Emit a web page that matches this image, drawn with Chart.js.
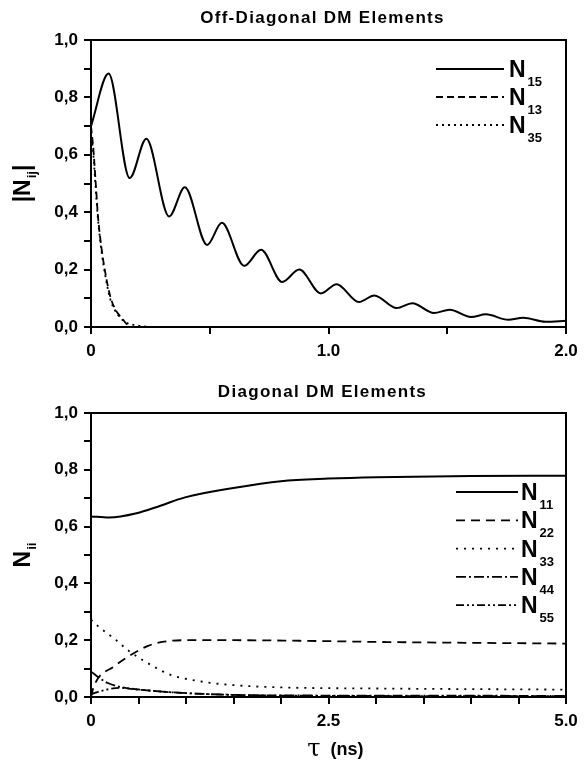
<!DOCTYPE html>
<html>
<head>
<meta charset="utf-8">
<script src="https://cdn.jsdelivr.net/npm/chart.js@4.4.1/dist/chart.umd.min.js"></script>
<style>
  html, body { margin: 0; padding: 0; background: #fff; }
  #wrap { position: relative; width: 585px; height: 764px; }
  canvas { position: absolute; left: 0; }
  #offChart { top: 0; }
  #diagChart { top: 370px; }
</style>
</head>
<body>
<div id="wrap">
  <canvas id="offChart" width="585" height="370"></canvas>
  <canvas id="diagChart" width="585" height="394"></canvas>
</div>
<script>
// --- DATA: off-diagonal elements (tau in ns) ---
const n15Time = [0, 0.074, 0.163, 0.233, 0.329, 0.395, 0.489, 0.551, 0.645, 0.716, 0.805, 0.877, 0.968, 1.034, 1.128, 1.193, 1.287, 1.353, 1.444, 1.51, 1.60, 1.663, 1.757, 1.82, 1.914, 2.0];
const n15Vals = [0.70, 0.883, 0.519, 0.656, 0.385, 0.487, 0.286, 0.363, 0.213, 0.269, 0.157, 0.20, 0.117, 0.149, 0.087, 0.11, 0.066, 0.083, 0.049, 0.06, 0.035, 0.044, 0.025, 0.032, 0.018, 0.022];
const n13Time = [0, 0.01, 0.02, 0.03, 0.045, 0.06, 0.08, 0.10, 0.12, 0.14, 0.16];
const n13Vals = [0.70, 0.62, 0.50, 0.38, 0.27, 0.19, 0.11, 0.065, 0.04, 0.02, 0.0];
const n35Time = [0, 0.01, 0.02, 0.03, 0.045, 0.06, 0.08, 0.10, 0.12, 0.15, 0.20, 0.25];
const n35Vals = [0.68, 0.60, 0.48, 0.37, 0.26, 0.18, 0.10, 0.06, 0.035, 0.015, 0.005, 0.0];

// --- DATA: diagonal elements ---
const n11Time = [0, 0.19, 0.48, 0.71, 0.99, 1.5, 2.0, 2.5, 3.0, 4.0, 5.0];
const n11Vals = [0.636, 0.632, 0.647, 0.671, 0.703, 0.736, 0.76, 0.769, 0.774, 0.778, 0.779];
const n22Time = [0, 0.03, 0.25, 0.4, 0.6, 0.75, 1.03, 1.42, 2.2, 3.0, 5.0];
const n22Vals = [0.0, 0.038, 0.109, 0.144, 0.18, 0.194, 0.20, 0.20, 0.198, 0.194, 0.188];
const n33Time = [0, 0.09, 0.25, 0.4, 0.64, 0.83, 1.03, 1.42, 2.0, 3.0, 5.0];
const n33Vals = [0.272, 0.245, 0.204, 0.162, 0.111, 0.079, 0.062, 0.044, 0.034, 0.03, 0.026];
const n44Time = [0, 0.17, 0.36, 0.71, 1.1, 1.8, 3.0, 5.0];
const n44Vals = [0.089, 0.05, 0.032, 0.02, 0.012, 0.006, 0.005, 0.004];
const n55Time = [0, 0.15, 0.3, 0.55, 0.83, 1.42, 2.5, 5.0];
const n55Vals = [0.01, 0.025, 0.032, 0.025, 0.017, 0.008, 0.004, 0.003];

// --- LEGEND / LABEL TEXT ---
const offSubs = ['15', '13', '35'];
const diagSubs = ['11', '22', '33', '44', '55'];

const FONT = "'Liberation Sans', Arial, sans-serif";

function pts(xs, ys) { return xs.map((x, i) => ({ x: x, y: ys[i] })); }

function line(label, xs, ys, dash, width) {
    return {
        label: label, data: pts(xs, ys), borderColor: '#000', borderWidth: width || 1.8,
        borderDash: dash, pointRadius: 0, fill: false, cubicInterpolationMode: 'monotone'
    };
}

const comma = v => (Math.round(v * 10) % 2 === 0) ? v.toFixed(1).replace('.', ',') : '';

// draws title, axis titles with subscripts, box and the legend
const decorPlugin = {
    id: 'decor',
    afterDraw(chart, args, o) {
        const ctx = chart.ctx, a = chart.chartArea;
        ctx.save();
        ctx.strokeStyle = '#000';
        ctx.lineWidth = 2;
        ctx.setLineDash([]);
        ctx.strokeRect(a.left, a.top, a.right - a.left, a.bottom - a.top);

        // title
        ctx.fillStyle = '#000';
        ctx.font = 'bold 17px ' + FONT;
        ctx.letterSpacing = '1.3px';
        ctx.textAlign = 'center';
        ctx.textBaseline = 'middle';
        ctx.fillText(o.title, (a.left + a.right) / 2 - 6, o.titleY);
        ctx.letterSpacing = '0px';

        // y axis title, rotated
        ctx.save();
        ctx.translate(o.yLabelX, (a.top + a.bottom) / 2);
        ctx.rotate(-Math.PI / 2);
        ctx.textAlign = 'left';
        ctx.textBaseline = 'alphabetic';
        const big = 'bold 23px ' + FONT, small = 'bold 13px ' + FONT;
        ctx.font = big;
        let w = ctx.measureText(o.yPre + 'N').width;
        ctx.font = small;
        w += ctx.measureText(o.ySub).width + 1;
        ctx.font = big;
        w += ctx.measureText(o.yPost).width;
        let x = -w / 2;
        ctx.fillText(o.yPre + 'N', x, 8);
        x += ctx.measureText(o.yPre + 'N').width + 1;
        ctx.font = small;
        ctx.fillText(o.ySub, x, 14);
        x += ctx.measureText(o.ySub).width;
        ctx.font = big;
        ctx.fillText(o.yPost, x, 8);
        ctx.restore();

        // x axis title
        if (o.xLabelY) {
            ctx.textBaseline = 'middle';
            ctx.textAlign = 'right';
            ctx.font = '24px "DejaVu Serif", serif';
            const cx = (a.left + a.right) / 2;
            ctx.fillText('\u03c4', cx - 8, o.xLabelY);
            ctx.textAlign = 'left';
            ctx.font = 'bold 18px ' + FONT;
            ctx.fillText('(ns)', cx + 2, o.xLabelY);
        }

        // legend
        chart.data.datasets.forEach((ds, i) => {
            const y = o.legendY + i * o.legendStep;
            ctx.beginPath();
            ctx.lineWidth = ds.borderWidth;
            ctx.setLineDash(ds.borderDash || []);
            ctx.moveTo(o.legendX0, y);
            ctx.lineTo(o.legendX1, y);
            ctx.stroke();
            ctx.setLineDash([]);
            ctx.textAlign = 'left';
            ctx.textBaseline = 'alphabetic';
            ctx.font = 'bold 23px ' + FONT;
            ctx.fillText('N', o.legendText, y + 8);
            const nw = ctx.measureText('N').width;
            ctx.font = 'bold 13px ' + FONT;
            ctx.fillText(o.subs[i], o.legendText + nw + 2, y + 17);
        });
        ctx.restore();
    }
};

function axes(xMax, xLabel, xHeight) {
    return {
        x: {
            type: 'linear', min: 0, max: xMax,
            border: { display: true, color: '#000', width: 2 },
            grid: { drawOnChartArea: false, color: '#000', tickLength: 7, lineWidth: 2 },
            ticks: { stepSize: 0.5, autoSkip: false, maxRotation: 0, color: '#000', padding: 7,
                     font: { family: FONT, size: 17, weight: 'bold' }, callback: xLabel },
            afterFit: s => { s.height = xHeight; }
        },
        y: {
            min: 0, max: 1,
            border: { display: true, color: '#000', width: 2 },
            grid: { drawOnChartArea: false, color: '#000', tickLength: 7, lineWidth: 2 },
            ticks: { stepSize: 0.1, autoSkip: false, color: '#000', padding: 6,
                     font: { family: FONT, size: 17, weight: 'bold' }, callback: comma },
            afterFit: s => { s.width = 91; }
        }
    };
}

new Chart(document.getElementById('offChart'), {
    type: 'line',
    data: {
        datasets: [
            line('N15', n15Time, n15Vals, [], 2),
            line('N13', n13Time, n13Vals, [7, 4]),
            line('N35', n35Time, n35Vals, [2, 4])
        ]
    },
    options: {
        responsive: false, animation: false, devicePixelRatio: 1,
        layout: { padding: { top: 40, right: 19, left: 0, bottom: 0 } },
        scales: axes(2, v => v === 0 ? '0' : (Math.abs(v - Math.round(v)) < 1e-9 ? v.toFixed(1) : ''), 43),
        plugins: {
            legend: { display: false }, tooltip: { enabled: false },
            decor: { title: 'Off-Diagonal DM Elements', titleY: 18, yLabelX: 22, yPre: '|', ySub: 'ij', yPost: '|',
                     legendX0: 436, legendX1: 504, legendText: 509, legendY: 69, legendStep: 28, subs: offSubs }
        }
    },
    plugins: [decorPlugin]
});

new Chart(document.getElementById('diagChart'), {
    type: 'line',
    data: {
        datasets: [
            line('N11', n11Time, n11Vals, [], 2),
            line('N22', n22Time, n22Vals, [9, 6]),
            line('N33', n33Time, n33Vals, [2, 6]),
            line('N44', n44Time, n44Vals, [10, 3, 2, 3]),
            line('N55', n55Time, n55Vals, [8, 3, 2, 3, 2, 3])
        ]
    },
    options: {
        responsive: false, animation: false, devicePixelRatio: 1,
        layout: { padding: { top: 43, right: 19, left: 0, bottom: 0 } },
        scales: axes(5, v => v === 0 ? '0' : (Math.abs(v % 2.5) < 1e-9 ? v.toFixed(1) : ''), 67),
        plugins: {
            legend: { display: false }, tooltip: { enabled: false },
            decor: { title: 'Diagonal DM Elements', titleY: 22, yLabelX: 22, yPre: '', ySub: 'ii', yPost: '',
                     xLabelY: 380,
                     legendX0: 456, legendX1: 518, legendText: 521, legendY: 122, legendStep: 28.3, subs: diagSubs }
        }
    },
    plugins: [decorPlugin]
});
</script>
</body>
</html>
